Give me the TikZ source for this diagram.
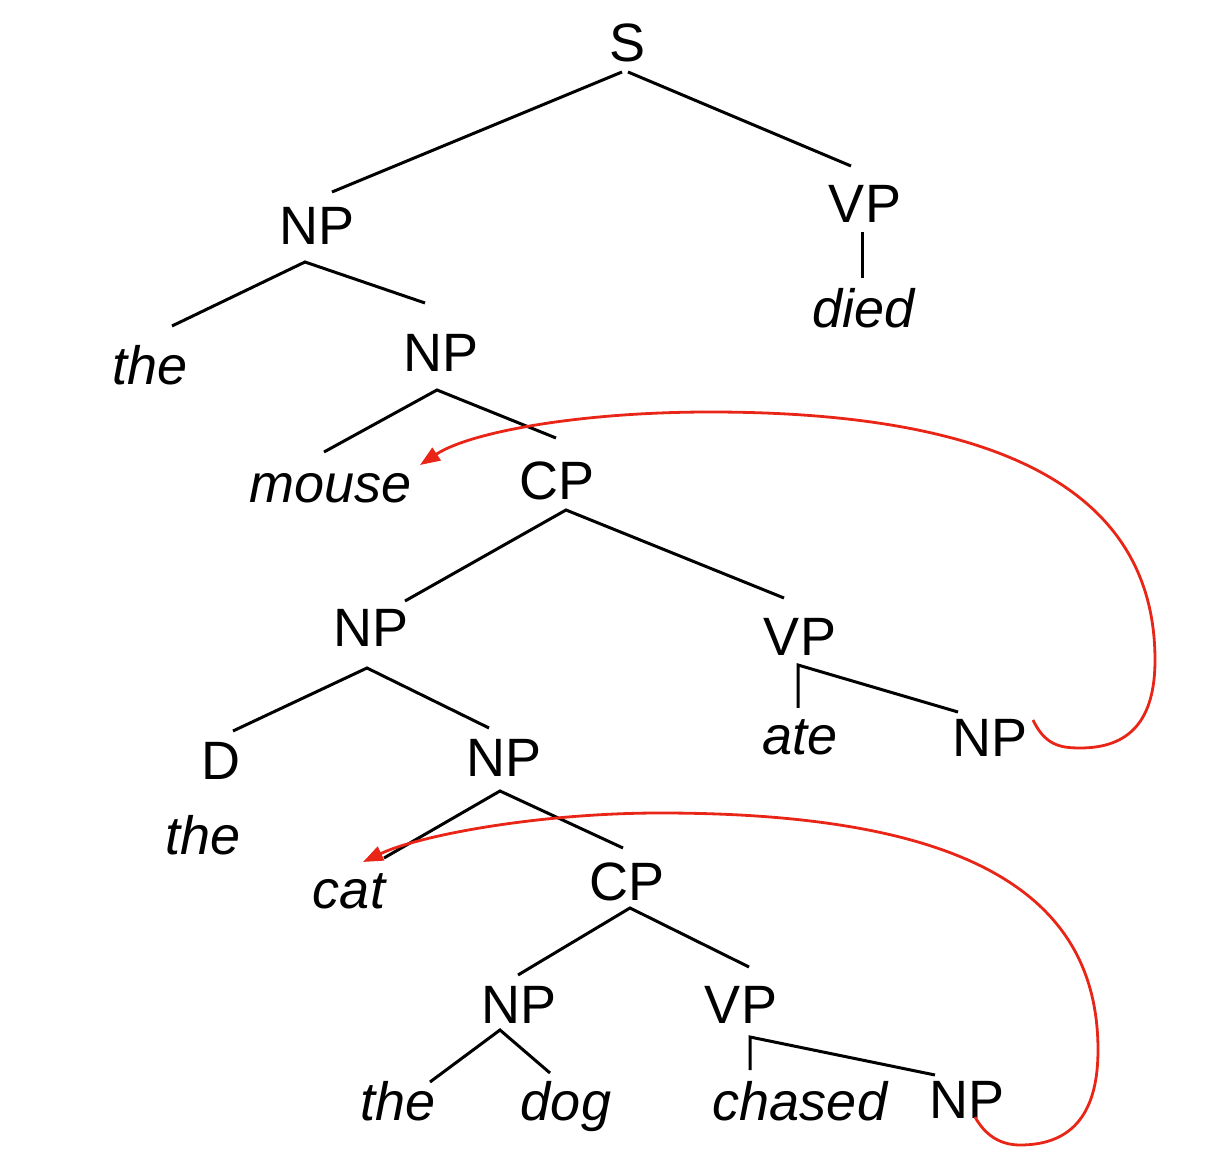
\documentclass[tikz,border=0pt]{standalone}
\usepackage{fontspec}
\setmainfont{Liberation Sans}
\usetikzlibrary{arrows.meta}
\definecolor{arcred}{RGB}{232,37,22}
\begin{document}
\begin{tikzpicture}[x=0.5pt,y=-0.5pt,
  lab/.style={inner sep=0pt, anchor=base, font=\fontsize{27}{32}\selectfont},
  word/.style={lab, font=\fontsize{27}{32}\selectfont\itshape},
  branch/.style={draw=black, line width=1.5pt},
  movearc/.style={draw=arcred, line width=1.4pt, -{Triangle[length=10pt,width=7.5pt]}}]
\useasboundingbox (0,0) rectangle (1228,1160);
% nodes
\node[lab] (S) at (628,62) {S};
\node[lab] (NP1) at (317,245) {NP};
\node[lab] (VP1) at (865,223) {VP};
\node[word] (died) at (864,328) {died};
\node[word] (the1) at (150,385) {the};
\node[lab] (NP2) at (441,372) {NP};
\node[word] (mouse) at (331,503) {mouse};
\node[lab] (CP1) at (557,500) {CP};
\node[lab] (NP3) at (371,647) {NP};
\node[lab] (VP2) at (800,656) {VP};
\node[word] (ate) at (800,755) {ate};
\node[lab] (NP4) at (990,757) {NP};
\node[lab] (D) at (221,780) {D};
\node[lab] (NP5) at (504,777) {NP};
\node[word] (the2) at (203,855) {the};
\node[word] (cat) at (349,908) {cat};
\node[lab] (CP2) at (627,900) {CP};
\node[lab] (NP6) at (519,1023) {NP};
\node[lab] (VP3) at (741,1023) {VP};
\node[word] (the3) at (398,1120) {the};
\node[word] (dog) at (566,1120) {dog};
\node[word] (chased) at (800,1120) {chased};
\node[lab] (NP7) at (967,1118) {NP};
% branches
\draw[branch] ([shift={(-6,10)}]S.base) -- ([shift={(15,-53)}]NP1.base);
\draw[branch] ([shift={(0,10)}]S.base) -- ([shift={(-14,-57)}]VP1.base);
\draw[branch] ([shift={(-3,9)}]VP1.base) -- ([shift={(-2,-50)}]died.base);
\draw[branch] ([shift={(22,-59)}]the1.base) -- ([shift={(-12,17)}]NP1.base) -- ([shift={(-16,-69)}]NP2.base);
\draw[branch] ([shift={(-7,-51)}]mouse.base) -- ([shift={(-4,18)}]NP2.base) -- ([shift={(-1,-62)}]CP1.base);
\draw[branch] ([shift={(34,-46)}]NP3.base) -- ([shift={(9,10)}]CP1.base) -- ([shift={(-16,-58)}]VP2.base);
\draw[branch] ([shift={(-2,-47)}]ate.base) -- ([shift={(-2,9)}]VP2.base) -- ([shift={(-32,-45)}]NP4.base);
\draw[branch] ([shift={(12,-49)}]D.base) -- ([shift={(-4,21)}]NP3.base) -- ([shift={(-15,-49)}]NP5.base);
\draw[branch] ([shift={(35,-50)}]cat.base) -- ([shift={(-4,14)}]NP5.base) -- ([shift={(-4,-52)}]CP2.base);
\draw[branch] ([shift={(-1,-48)}]NP6.base) -- ([shift={(3,8)}]CP2.base) -- ([shift={(8,-56)}]VP3.base);
\draw[branch] ([shift={(32,-38)}]the3.base) -- ([shift={(-19,7)}]NP6.base) -- ([shift={(-16,-47)}]dog.base);
\draw[branch] ([shift={(-50,-50)}]chased.base) -- ([shift={(9,14)}]VP3.base) -- ([shift={(-32,-43)}]NP7.base);
% movement arcs
\draw[movearc] ([shift={(43,-37)}]NP4.base) .. controls (1045,745) and (1060,748) .. (1080,748)
  .. controls (1130,748) and (1155,720) .. (1155,660)
  .. controls (1155,480) and (980,412) .. (710,412)
  .. controls (580,412) and (470,432) .. ([shift={(89,-38)}]mouse.base);
\draw[movearc] ([shift={(8,-1)}]NP7.base) .. controls (985,1135) and (1000,1145) .. (1020,1145)
  .. controls (1075,1145) and (1098,1110) .. (1098,1050)
  .. controls (1098,890) and (960,813) .. (660,813)
  .. controls (540,813) and (420,835) .. ([shift={(14,-46)}]cat.base);
\end{tikzpicture}
\end{document}
